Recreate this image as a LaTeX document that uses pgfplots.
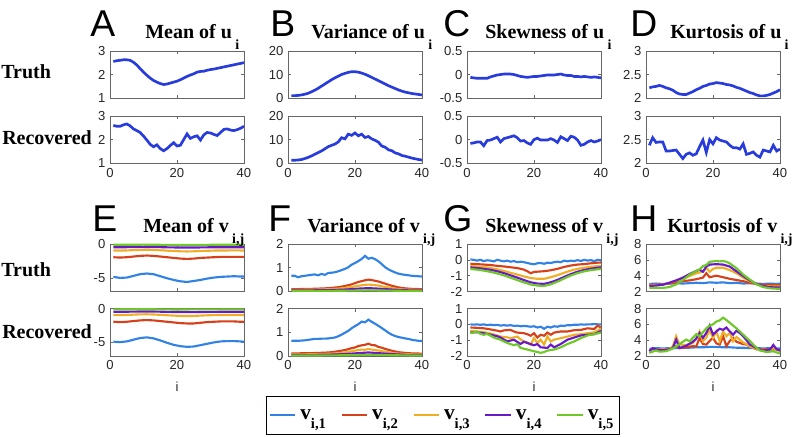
\documentclass[border=0pt]{standalone}
\usepackage{pgfplots}
\pgfplotsset{compat=1.18}
\usepackage{fontspec}
\setmainfont{Liberation Serif}
\newfontfamily\sansf{Liberation Sans}
\definecolor{ublue}{RGB}{40,60,220}
\definecolor{c1}{RGB}{50,130,230}
\definecolor{c2}{RGB}{215,65,25}
\definecolor{c3}{RGB}{240,175,35}
\definecolor{c4}{RGB}{105,25,200}
\definecolor{c5}{RGB}{110,200,40}
\pgfplotsset{
  panel/.style={scale only axis, width=100.5pt, height=35.6pt, anchor=south west,
    xmin=0, xmax=40, xtick={0,20,40}, tick align=inside, major tick length=2.5pt,
    axis line style={draw=black!60}, tick style={black!60, line width=0.4pt},
    tick label style={font=\sansf\fontsize{9.8}{11}\selectfont, text=black!85},
    /pgf/number format/assume math mode=true,
    xlabel style={font=\sansf\fontsize{9.8}{11}\selectfont, text=black!85, yshift=-2pt}},
  top/.style={panel, xticklabels={}},
  u/.style={ublue, line width=2pt},
  s1/.style={c1, line width=1.6pt},
  s2/.style={c2, line width=1.6pt},
  s3/.style={c3, line width=1.6pt},
  s4/.style={c4, line width=1.6pt},
  s5/.style={c5, line width=1.6pt},
}
\newcommand{\ttl}[2]{{\bfseries\fontsize{15}{15}\selectfont #1\,\raisebox{-8pt}{\fontsize{10.5}{10.5}\selectfont #2}}}
\newcommand{\legv}[1]{{\bfseries\fontsize{16}{16}\selectfont v\raisebox{-7pt}{\fontsize{11}{11}\selectfont #1}}}
\begin{document}
\begin{tikzpicture}
\useasboundingbox (0,0) rectangle (594.75pt,327pt);
% ---------------- A ----------------
\begin{axis}[top, at={(82.5pt,253.3pt)}, ymin=1, ymax=3, ytick={1,2,3}]
\addplot[u] coordinates {(1,2.55)(2,2.58)(3,2.60)(4,2.62)(5,2.62)(6,2.60)(7,2.52)(8,2.40)(9,2.25)(10,2.10)(11,1.97)(12,1.85)(13,1.75)(14,1.68)(15,1.62)(16,1.58)(17,1.60)(18,1.64)(19,1.68)(20,1.72)(21,1.78)(22,1.85)(23,1.92)(24,1.98)(25,2.03)(26,2.10)(27,2.13)(28,2.14)(29,2.18)(30,2.21)(31,2.23)(32,2.26)(33,2.29)(34,2.32)(35,2.35)(36,2.38)(37,2.41)(38,2.44)(39,2.47)(40,2.50)};
\end{axis}
\begin{axis}[panel, at={(82.5pt,204.5pt)}, ymin=1, ymax=3, ytick={1,2,3}]
\addplot[u] coordinates {(1,2.60)(2,2.56)(3,2.56)(4,2.62)(5,2.66)(6,2.58)(7,2.45)(8,2.38)(9,2.30)(10,2.15)(11,1.98)(12,1.80)(13,1.70)(14,1.78)(15,1.62)(16,1.53)(17,1.62)(18,1.75)(19,1.87)(20,1.73)(21,1.76)(22,2.00)(23,2.24)(24,2.05)(25,2.12)(26,2.16)(27,1.98)(28,2.20)(29,2.30)(30,2.28)(31,2.22)(32,2.17)(33,2.30)(34,2.43)(35,2.45)(36,2.40)(37,2.38)(38,2.42)(39,2.48)(40,2.56)};
\end{axis}
% ---------------- B ----------------
\begin{axis}[top, at={(216pt,253.3pt)}, ymin=0, ymax=20, ytick={0,10,20}]
\addplot[u] coordinates {(1,1.1)(2,1.1)(3,1.2)(4,1.4)(5,1.7)(6,2.1)(7,2.7)(8,3.4)(9,4.2)(10,5.1)(11,6.0)(12,6.9)(13,7.8)(14,8.6)(15,9.3)(16,10.0)(17,10.5)(18,10.9)(19,11.2)(20,11.2)(21,11.0)(22,10.6)(23,10.1)(24,9.5)(25,8.8)(26,8.1)(27,7.4)(28,6.7)(29,6.0)(30,5.3)(31,4.7)(32,4.1)(33,3.5)(34,3.0)(35,2.6)(36,2.3)(37,2.0)(38,1.8)(39,1.6)(40,1.4)};
\end{axis}
\begin{axis}[panel, at={(216pt,204.5pt)}, ymin=0, ymax=20, ytick={0,10,20}]
\addplot[u] coordinates {(1,1.3)(2,1.3)(3,1.4)(4,1.6)(5,2.0)(6,2.5)(7,3.1)(8,3.8)(9,4.5)(10,5.2)(11,6.1)(12,7.0)(13,7.6)(14,8.1)(15,9.0)(16,10.8)(17,10.3)(18,12.3)(19,11.8)(20,12.8)(21,11.6)(22,12.3)(23,10.9)(24,11.3)(25,10.3)(26,9.7)(27,8.9)(28,7.3)(29,6.8)(30,5.7)(31,5.3)(32,4.4)(33,4.0)(34,3.3)(35,3.0)(36,2.6)(37,2.2)(38,1.9)(39,1.6)(40,1.4)};
\end{axis}
% ---------------- C ----------------
\begin{axis}[top, at={(350.25pt,253.3pt)}, ymin=-0.5, ymax=0.5, ytick={-0.5,0,0.5}]
\addplot[u] coordinates {(1,-0.06)(2,-0.07)(3,-0.08)(4,-0.08)(5,-0.08)(6,-0.08)(7,-0.05)(8,-0.03)(9,-0.01)(10,0.00)(11,0.01)(12,0.01)(13,0.01)(14,0.00)(15,-0.02)(16,-0.04)(17,-0.05)(18,-0.06)(19,-0.05)(20,-0.04)(21,-0.04)(22,-0.03)(23,-0.02)(24,-0.01)(25,-0.01)(26,-0.01)(27,0.00)(28,0.01)(29,-0.01)(30,-0.02)(31,-0.02)(32,-0.04)(33,-0.04)(34,-0.05)(35,-0.04)(36,-0.05)(37,-0.06)(38,-0.05)(39,-0.06)(40,-0.07)};
\end{axis}
\begin{axis}[panel, at={(350.25pt,204.5pt)}, ymin=-0.5, ymax=0.5, ytick={-0.5,0,0.5}]
\addplot[u] coordinates {(1,-0.08)(2,-0.07)(3,-0.05)(4,-0.05)(5,-0.13)(6,-0.02)(7,-0.01)(8,0.02)(9,0.05)(10,-0.05)(11,0.02)(12,0.04)(13,0.06)(14,0.08)(15,0.04)(16,-0.03)(17,-0.02)(18,-0.07)(19,-0.10)(20,0.00)(21,0.03)(22,-0.01)(23,-0.01)(24,-0.01)(25,0.02)(26,-0.01)(27,-0.06)(28,0.06)(29,0.02)(30,-0.02)(31,0.07)(32,0.05)(33,-0.01)(34,-0.12)(35,-0.10)(36,-0.05)(37,-0.02)(38,-0.05)(39,-0.03)(40,0.00)};
\end{axis}
% ---------------- D ----------------
\begin{axis}[top, at={(484.5pt,253.3pt)}, ymin=2, ymax=3, ytick={2,2.5,3}]
\addplot[u] coordinates {(1,2.22)(2,2.24)(3,2.25)(4,2.27)(5,2.25)(6,2.22)(7,2.20)(8,2.17)(9,2.12)(10,2.09)(11,2.08)(12,2.08)(13,2.11)(14,2.14)(15,2.18)(16,2.21)(17,2.25)(18,2.27)(19,2.30)(20,2.31)(21,2.33)(22,2.32)(23,2.31)(24,2.29)(25,2.28)(26,2.26)(27,2.23)(28,2.21)(29,2.18)(30,2.15)(31,2.12)(32,2.10)(33,2.07)(34,2.05)(35,2.05)(36,2.06)(37,2.08)(38,2.11)(39,2.14)(40,2.18)};
\end{axis}
\begin{axis}[panel, at={(484.5pt,204.5pt)}, ymin=2, ymax=3, ytick={2,2.5,3}]
\addplot[u] coordinates {(1,2.38)(2,2.54)(3,2.44)(4,2.45)(5,2.45)(6,2.26)(7,2.26)(8,2.27)(9,2.28)(10,2.19)(11,2.10)(12,2.19)(13,2.22)(14,2.17)(15,2.20)(16,2.35)(17,2.49)(18,2.23)(19,2.50)(20,2.41)(21,2.54)(22,2.49)(23,2.47)(24,2.45)(25,2.38)(26,2.33)(27,2.33)(28,2.30)(29,2.41)(30,2.19)(31,2.21)(32,2.24)(33,2.17)(34,2.13)(35,2.28)(36,2.26)(37,2.24)(38,2.38)(39,2.26)(40,2.30)};
\end{axis}
% ---------------- E ----------------
\begin{axis}[top, at={(82.5pt,108.4pt)}, ymin=-7, ymax=0, ytick={-5,0}]
\addplot[s1] coordinates {(1,-4.85)(3,-5.0)(5,-4.95)(7,-4.7)(9,-4.45)(11,-4.35)(13,-4.45)(15,-4.75)(17,-5.05)(19,-5.3)(21,-5.5)(23,-5.6)(25,-5.45)(27,-5.3)(29,-5.1)(31,-4.95)(33,-4.85)(35,-4.8)(37,-4.75)(39,-4.8)(40,-4.8)};
\addplot[s2] coordinates {(1,-1.95)(3,-2.0)(5,-1.95)(7,-1.85)(9,-1.75)(11,-1.7)(13,-1.75)(15,-1.85)(17,-1.95)(19,-2.05)(21,-2.15)(23,-2.2)(25,-2.15)(27,-2.05)(29,-2.0)(31,-1.95)(33,-1.9)(35,-1.9)(37,-1.9)(39,-1.9)(40,-1.9)};
\addplot[s3] coordinates {(1,-0.95)(3,-0.97)(5,-0.95)(7,-0.9)(9,-0.87)(11,-0.85)(13,-0.87)(15,-0.92)(17,-0.98)(19,-1.03)(21,-1.08)(23,-1.1)(25,-1.08)(27,-1.03)(29,-1.0)(31,-0.97)(33,-0.95)(35,-0.95)(37,-0.94)(39,-0.95)(40,-0.95)};
\addplot[s4] coordinates {(1,-0.47)(5,-0.47)(9,-0.44)(13,-0.44)(17,-0.49)(21,-0.52)(25,-0.52)(29,-0.49)(33,-0.47)(37,-0.47)(40,-0.47)};
\addplot[s5] coordinates {(1,-0.12)(10,-0.1)(20,-0.14)(30,-0.12)(40,-0.12)};
\end{axis}
\begin{axis}[panel, at={(82.5pt,60pt)}, ymin=-7, ymax=0, ytick={-5,0}, xlabel={i}]
\addplot[s1] coordinates {(1,-4.9)(3,-4.95)(5,-4.85)(7,-4.6)(9,-4.35)(11,-4.25)(13,-4.4)(15,-4.7)(17,-5.05)(19,-5.35)(21,-5.55)(23,-5.65)(25,-5.6)(27,-5.4)(29,-5.2)(31,-5.0)(33,-4.85)(35,-4.8)(37,-4.8)(39,-4.85)(40,-4.9)};
\addplot[s2] coordinates {(1,-1.95)(3,-2.0)(5,-1.95)(7,-1.85)(9,-1.75)(11,-1.7)(13,-1.75)(15,-1.85)(17,-1.95)(19,-2.05)(21,-2.15)(23,-2.2)(25,-2.2)(27,-2.1)(29,-2.0)(31,-1.95)(33,-1.9)(35,-1.9)(37,-1.9)(39,-1.95)(40,-1.95)};
\addplot[s3] coordinates {(1,-0.97)(3,-0.97)(5,-0.95)(7,-0.9)(9,-0.86)(11,-0.85)(13,-0.88)(15,-0.93)(17,-0.99)(19,-1.04)(21,-1.09)(23,-1.1)(25,-1.09)(27,-1.04)(29,-1.0)(31,-0.97)(33,-0.96)(35,-0.95)(37,-0.95)(39,-0.96)(40,-0.96)};
\addplot[s4] coordinates {(1,-0.48)(5,-0.47)(9,-0.44)(13,-0.44)(17,-0.49)(21,-0.52)(25,-0.53)(29,-0.5)(33,-0.48)(37,-0.47)(40,-0.47)};
\addplot[s5] coordinates {(1,-0.12)(10,-0.1)(20,-0.14)(30,-0.12)(40,-0.12)};
\end{axis}
% ---------------- F ----------------
\begin{axis}[top, at={(216pt,108.4pt)}, ymin=0, ymax=2, ytick={0,1,2}]
\addplot[s1] coordinates {(1,0.66)(2,0.66)(3,0.60)(4,0.64)(5,0.66)(6,0.68)(7,0.70)(8,0.72)(9,0.68)(10,0.74)(11,0.70)(12,0.78)(13,0.79)(14,0.81)(15,0.85)(16,0.90)(17,0.95)(18,1.02)(19,1.13)(20,1.20)(21,1.28)(22,1.37)(23,1.50)(24,1.38)(25,1.42)(26,1.36)(27,1.27)(28,1.15)(29,1.02)(30,0.93)(31,0.86)(32,0.80)(33,0.75)(34,0.72)(35,0.70)(36,0.68)(37,0.66)(38,0.65)(39,0.64)(40,0.63)};
\addplot[s2] coordinates {(1,0.10)(3,0.10)(5,0.11)(7,0.11)(9,0.12)(11,0.13)(13,0.15)(15,0.18)(17,0.23)(19,0.30)(21,0.40)(23,0.47)(24,0.50)(25,0.48)(27,0.42)(29,0.33)(31,0.24)(33,0.17)(35,0.13)(37,0.11)(39,0.10)(40,0.10)};
\addplot[s3] coordinates {(1,0.06)(5,0.07)(9,0.08)(13,0.10)(15,0.12)(17,0.15)(19,0.19)(21,0.24)(23,0.28)(24,0.29)(25,0.28)(27,0.25)(29,0.19)(31,0.14)(33,0.10)(35,0.08)(37,0.07)(40,0.06)};
\addplot[s4] coordinates {(1,0.04)(9,0.05)(13,0.06)(17,0.08)(21,0.12)(24,0.14)(27,0.12)(31,0.08)(35,0.05)(40,0.04)};
\addplot[s5] coordinates {(1,0.02)(13,0.025)(21,0.04)(24,0.05)(28,0.04)(35,0.025)(40,0.02)};
\end{axis}
\begin{axis}[panel, at={(216pt,60pt)}, ymin=0, ymax=2, ytick={0,1,2}, xlabel={i},
  legend columns=5,
  legend style={at={(1.153,-1.25)}, anchor=center, draw=black, line width=0.5pt, inner xsep=2pt, inner ysep=8pt,
    /tikz/every even column/.append style={column sep=9pt},
    /tikz/every odd column/.append style={column sep=1pt}},
  legend image code/.code={\draw[#1] (0pt,0pt) -- (19pt,0pt);}]
\addplot[s1] coordinates {(1,0.64)(2,0.64)(3,0.64)(4,0.65)(5,0.66)(6,0.68)(7,0.70)(8,0.72)(9,0.72)(10,0.73)(11,0.73)(12,0.74)(13,0.76)(14,0.78)(15,0.83)(16,0.90)(17,0.98)(18,1.06)(19,1.17)(20,1.26)(21,1.34)(22,1.45)(23,1.42)(24,1.53)(25,1.44)(26,1.36)(27,1.27)(28,1.18)(29,1.08)(30,0.98)(31,0.90)(32,0.84)(33,0.80)(34,0.77)(35,0.74)(36,0.72)(37,0.68)(38,0.66)(39,0.64)(40,0.63)};
\addplot[s2] coordinates {(1,0.11)(3,0.11)(5,0.12)(7,0.12)(9,0.13)(11,0.14)(13,0.16)(15,0.20)(17,0.25)(19,0.33)(20,0.36)(21,0.42)(22,0.45)(23,0.47)(24,0.52)(25,0.46)(26,0.45)(27,0.38)(28,0.35)(29,0.30)(31,0.22)(33,0.16)(35,0.13)(37,0.11)(40,0.10)};
\addplot[s3] coordinates {(1,0.06)(5,0.07)(9,0.08)(13,0.10)(15,0.12)(17,0.15)(19,0.20)(21,0.25)(22,0.27)(23,0.26)(24,0.30)(25,0.27)(27,0.23)(29,0.18)(31,0.13)(33,0.10)(35,0.08)(37,0.07)(40,0.06)};
\addplot[s4] coordinates {(1,0.04)(9,0.05)(13,0.06)(17,0.08)(21,0.12)(24,0.15)(27,0.12)(31,0.08)(35,0.05)(40,0.04)};
\addplot[s5] coordinates {(1,0.02)(13,0.025)(21,0.04)(24,0.05)(28,0.04)(35,0.025)(40,0.02)};
\legend{\legv{i,1},\legv{i,2},\legv{i,3},\legv{i,4},\legv{i,5}}
\end{axis}
% ---------------- G ----------------
\begin{axis}[top, at={(350.25pt,108.4pt)}, ymin=-2, ymax=1, ytick={-2,-1,0,1}]
\addplot[s1] coordinates {(1,0.02)(2,0.0)(3,-0.05)(4,0.0)(5,-0.08)(6,-0.03)(7,-0.05)(8,-0.1)(9,0.0)(10,-0.05)(11,-0.1)(12,-0.05)(13,-0.12)(14,-0.08)(15,-0.15)(16,-0.12)(17,-0.15)(18,-0.2)(19,-0.25)(20,-0.28)(21,-0.22)(22,-0.2)(23,-0.25)(24,-0.18)(25,-0.2)(26,-0.15)(27,-0.12)(28,-0.15)(29,-0.05)(30,-0.1)(31,-0.05)(32,-0.08)(33,-0.02)(34,-0.07)(35,0.0)(36,-0.05)(37,-0.02)(38,-0.08)(39,0.0)(40,-0.03)};
\addplot[s2] coordinates {(1,-0.25)(3,-0.27)(5,-0.3)(7,-0.33)(9,-0.38)(11,-0.42)(13,-0.47)(15,-0.52)(17,-0.62)(18,-0.72)(19,-0.85)(20,-0.76)(21,-0.75)(23,-0.72)(25,-0.66)(27,-0.57)(29,-0.45)(31,-0.36)(33,-0.3)(35,-0.27)(37,-0.22)(39,-0.18)(40,-0.17)};
\addplot[s3] coordinates {(1,-0.38)(3,-0.42)(5,-0.46)(7,-0.52)(9,-0.6)(11,-0.7)(13,-0.82)(15,-0.93)(17,-1.05)(19,-1.15)(21,-1.2)(23,-1.2)(25,-1.1)(27,-0.97)(29,-0.82)(31,-0.68)(33,-0.57)(35,-0.5)(37,-0.44)(39,-0.4)(40,-0.38)};
\addplot[s4] coordinates {(1,-0.48)(3,-0.52)(5,-0.57)(7,-0.63)(9,-0.72)(11,-0.84)(13,-0.98)(15,-1.12)(17,-1.28)(19,-1.42)(21,-1.5)(23,-1.52)(25,-1.42)(27,-1.27)(29,-1.08)(31,-0.9)(33,-0.75)(35,-0.64)(37,-0.56)(39,-0.5)(40,-0.48)};
\addplot[s5] coordinates {(1,-0.58)(3,-0.62)(5,-0.68)(7,-0.76)(9,-0.86)(11,-0.98)(13,-1.13)(15,-1.28)(17,-1.43)(19,-1.56)(21,-1.63)(23,-1.65)(25,-1.55)(27,-1.38)(29,-1.18)(31,-0.99)(33,-0.84)(35,-0.73)(37,-0.65)(39,-0.6)(40,-0.58)};
\end{axis}
\begin{axis}[panel, at={(350.25pt,60pt)}, ymin=-2, ymax=1, ytick={-2,-1,0,1}, xlabel={i}]
\addplot[s1] coordinates {(1,0.0)(2,-0.02)(3,0.0)(4,-0.03)(5,0.0)(6,-0.05)(7,-0.02)(8,-0.05)(9,-0.03)(10,-0.08)(11,-0.05)(12,-0.08)(13,-0.05)(14,-0.1)(15,-0.08)(16,-0.12)(17,-0.1)(18,-0.12)(19,-0.15)(20,-0.12)(21,-0.2)(22,-0.15)(23,-0.28)(24,-0.15)(25,-0.2)(26,-0.12)(27,-0.15)(28,-0.08)(29,-0.1)(30,-0.05)(31,-0.06)(32,-0.02)(33,-0.03)(34,0.0)(35,-0.02)(36,0.0)(37,0.0)(38,0.02)(39,0.0)(40,0.0)};
\addplot[s2] coordinates {(1,-0.2)(3,-0.22)(5,-0.25)(7,-0.32)(9,-0.4)(10,-0.45)(11,-0.38)(13,-0.35)(14,-0.45)(15,-0.52)(17,-0.56)(18,-0.62)(19,-0.72)(20,-0.56)(21,-0.83)(22,-0.66)(23,-0.72)(24,-0.52)(25,-0.66)(26,-0.52)(28,-0.45)(30,-0.45)(32,-0.37)(34,-0.35)(36,-0.25)(38,-0.29)(39,-0.08)(40,-0.2)};
\addplot[s3] coordinates {(1,-0.41)(3,-0.45)(5,-0.5)(7,-0.58)(9,-0.7)(10,-0.77)(12,-0.82)(13,-0.87)(15,-0.77)(16,-0.95)(17,-1.08)(18,-1.15)(19,-1.28)(20,-0.87)(21,-1.18)(22,-0.97)(23,-1.28)(24,-0.77)(25,-1.08)(26,-0.97)(28,-0.87)(30,-0.77)(32,-0.66)(34,-0.62)(36,-0.56)(38,-0.5)(39,-0.4)(40,-0.25)};
\addplot[s4] coordinates {(1,-0.52)(3,-0.5)(5,-0.56)(7,-0.65)(9,-0.75)(10,-0.83)(12,-1.08)(14,-0.97)(16,-1.24)(17,-1.1)(18,-1.18)(20,-1.32)(21,-1.25)(22,-1.45)(24,-1.49)(25,-1.28)(26,-1.45)(28,-1.24)(30,-0.97)(32,-0.83)(34,-0.7)(36,-0.66)(38,-0.62)(40,-0.41)};
\addplot[s5] coordinates {(1,-0.56)(3,-0.45)(4,-0.6)(5,-0.66)(6,-0.6)(8,-0.83)(10,-0.97)(12,-1.18)(14,-1.32)(15,-1.25)(16,-1.49)(18,-1.59)(20,-1.7)(22,-1.8)(23,-1.75)(24,-1.66)(26,-1.59)(28,-1.45)(30,-1.24)(32,-1.08)(34,-0.87)(36,-0.7)(38,-0.62)(40,-0.52)};
\end{axis}
% ---------------- H ----------------
\begin{axis}[top, at={(484.5pt,108.4pt)}, ymin=2, ymax=8, ytick={2,4,6,8}]
\addplot[s1] coordinates {(1,2.95)(3,3.0)(5,2.95)(7,3.0)(9,3.05)(11,3.0)(13,3.05)(15,3.1)(17,3.05)(19,3.15)(21,3.1)(23,3.15)(25,3.05)(27,3.1)(29,3.0)(31,3.05)(33,3.0)(35,2.95)(37,3.0)(39,2.95)(40,3.0)};
\addplot[s2] coordinates {(1,2.85)(3,2.85)(5,2.9)(7,3.0)(9,3.15)(11,3.3)(13,3.4)(15,3.55)(17,3.75)(18,4.3)(19,3.8)(20,3.9)(21,4.0)(23,3.8)(25,3.6)(27,3.45)(29,3.3)(31,3.1)(33,2.95)(35,2.85)(37,2.85)(39,2.8)(40,2.8)};
\addplot[s3] coordinates {(1,2.75)(3,2.8)(5,2.85)(7,3.1)(9,3.35)(11,3.6)(13,3.95)(15,4.3)(16,4.4)(17,4.5)(18,5.0)(19,4.5)(20,4.85)(21,5.0)(23,5.0)(25,4.7)(27,4.3)(29,3.75)(31,3.3)(33,2.95)(35,2.7)(37,2.65)(39,2.65)(40,2.65)};
\addplot[s4] coordinates {(1,2.7)(3,2.75)(5,2.85)(7,3.1)(9,3.4)(11,3.75)(13,4.2)(15,4.6)(16,4.75)(17,4.5)(18,5.15)(19,5.4)(21,5.45)(23,5.4)(25,5.15)(27,4.55)(29,3.95)(31,3.4)(33,2.95)(35,2.7)(37,2.55)(39,2.5)(40,2.5)};
\addplot[s5] coordinates {(1,2.45)(3,2.45)(5,2.45)(7,2.55)(9,2.9)(11,3.45)(13,4.1)(15,4.6)(16,4.8)(17,5.2)(18,5.35)(19,5.75)(20,5.8)(21,5.85)(22,5.8)(23,5.85)(24,5.75)(25,5.55)(27,4.95)(29,4.15)(31,3.5)(33,2.9)(35,2.55)(37,2.4)(39,2.35)(40,2.35)};
\end{axis}
\begin{axis}[panel, at={(484.5pt,60pt)}, ymin=2, ymax=8, ytick={2,4,6,8}, xlabel={i}]
\addplot[s1] coordinates {(1,2.9)(3,3.0)(5,2.95)(7,3.0)(9,3.0)(11,3.05)(13,3.05)(15,3.1)(17,3.1)(19,3.15)(21,3.15)(23,3.1)(25,3.1)(27,3.05)(29,3.05)(31,3.0)(33,3.0)(35,2.95)(37,3.0)(39,2.95)(40,2.95)};
\addplot[s2] coordinates {(1,2.7)(2,2.9)(3,2.8)(5,2.85)(7,2.9)(9,3.25)(10,3.0)(12,3.1)(14,3.25)(15,3.2)(16,4.3)(17,3.5)(18,3.45)(19,3.9)(20,4.3)(21,3.6)(22,3.45)(23,4.5)(24,3.25)(25,3.9)(26,4.3)(27,3.8)(28,3.65)(29,3.5)(30,3.45)(31,3.2)(33,2.85)(35,2.9)(37,2.8)(39,2.85)(40,2.7)};
\addplot[s3] coordinates {(1,2.7)(2,2.95)(3,2.8)(5,2.85)(7,2.9)(8,3.2)(9,4.5)(10,3.45)(12,3.4)(14,3.65)(15,4.2)(16,5.1)(17,3.86)(18,4.3)(19,5.3)(20,4.3)(21,5.1)(22,3.86)(23,5.1)(24,4.5)(25,4.9)(26,3.86)(27,4.4)(28,4.07)(29,3.7)(30,3.5)(31,3.2)(33,2.9)(35,2.8)(37,2.7)(38,3.0)(39,2.8)(40,2.6)};
\addplot[s4] coordinates {(1,2.6)(2,3.0)(3,2.8)(5,2.75)(7,2.85)(8,3.0)(9,4.07)(10,3.0)(12,3.3)(14,3.8)(15,4.2)(16,4.9)(17,4.3)(18,4.9)(19,5.85)(20,4.7)(21,5.1)(22,5.45)(23,5.3)(24,5.6)(25,5.1)(26,4.7)(27,5.2)(28,4.9)(29,4.5)(30,4.0)(31,3.45)(33,3.0)(35,2.7)(37,2.8)(38,3.4)(39,2.85)(40,2.7)};
\addplot[s5] coordinates {(1,2.4)(3,2.7)(4,2.55)(6,2.6)(8,2.95)(10,3.5)(11,3.8)(12,4.07)(13,3.86)(14,4.3)(15,4.75)(16,4.5)(17,5.0)(18,5.5)(19,5.85)(20,6.0)(21,6.35)(22,6.5)(23,6.85)(24,6.55)(25,6.2)(26,5.85)(27,5.5)(28,5.1)(29,4.7)(30,4.3)(31,3.9)(32,3.45)(33,3.05)(34,2.7)(35,2.6)(36,2.5)(37,2.55)(38,2.6)(39,2.45)(40,2.3)};
\end{axis}
% ---------------- letters, titles, row labels ----------------
\begin{scope}[every node/.style={inner sep=0pt, anchor=base west}]
\node at ({90*0.75pt},{(436-37)*0.75pt}) {\sansf\fontsize{28}{28}\selectfont A};
\node at ({270*0.75pt},{(436-37)*0.75pt}) {\sansf\fontsize{28}{28}\selectfont B};
\node at ({443*0.75pt},{(436-37)*0.75pt}) {\sansf\fontsize{28}{28}\selectfont C};
\node at ({630*0.75pt},{(436-37)*0.75pt}) {\sansf\fontsize{28}{28}\selectfont D};
\node at ({92*0.75pt},{(436-232)*0.75pt}) {\sansf\fontsize{28}{28}\selectfont E};
\node at ({268*0.75pt},{(436-232)*0.75pt}) {\sansf\fontsize{28}{28}\selectfont F};
\node at ({443*0.75pt},{(436-232)*0.75pt}) {\sansf\fontsize{28}{28}\selectfont G};
\node at ({630*0.75pt},{(436-232)*0.75pt}) {\sansf\fontsize{28}{28}\selectfont H};
\node at ({145*0.75pt},{(436-39)*0.75pt}) {\ttl{Mean of u}{i}};
\node at ({311*0.75pt},{(436-39)*0.75pt}) {\ttl{Variance of u}{i}};
\node at ({485*0.75pt},{(436-39)*0.75pt}) {\ttl{Skewness of u}{i}};
\node at ({670*0.75pt},{(436-39)*0.75pt}) {\ttl{Kurtosis of u}{i}};
\node at ({143*0.75pt},{(436-233)*0.75pt}) {\ttl{Mean of v}{i,j}};
\node at ({307*0.75pt},{(436-233)*0.75pt}) {\ttl{Variance of v}{i,j}};
\node at ({485*0.75pt},{(436-233)*0.75pt}) {\ttl{Skewness of v}{i,j}};
\node at ({667*0.75pt},{(436-233)*0.75pt}) {\ttl{Kurtosis of v}{i,j}};
\node at ({1*0.75pt},{(436-79)*0.75pt}) {\bfseries\fontsize{15}{15}\selectfont Truth};
\node at ({2*0.75pt},{(436-145)*0.75pt}) {\bfseries\fontsize{15}{15}\selectfont Recovered};
\node at ({1*0.75pt},{(436-277)*0.75pt}) {\bfseries\fontsize{15}{15}\selectfont Truth};
\node at ({2*0.75pt},{(436-338)*0.75pt}) {\bfseries\fontsize{15}{15}\selectfont Recovered};
\end{scope}
\end{tikzpicture}
\end{document}
